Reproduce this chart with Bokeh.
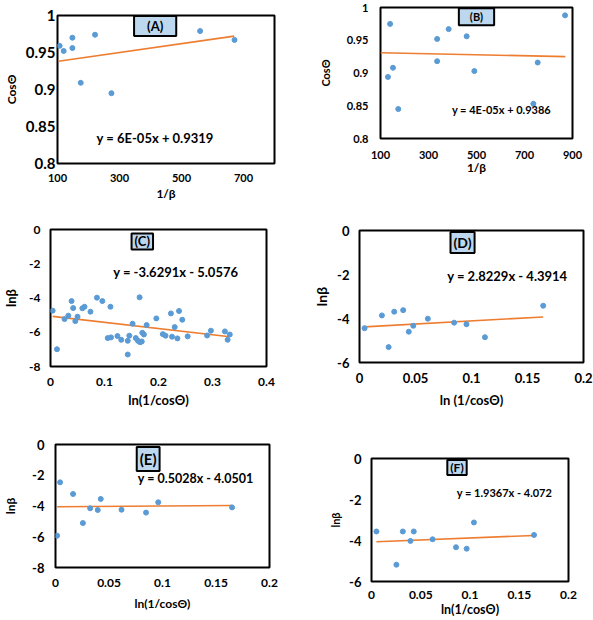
from bokeh.plotting import figure
from bokeh.layouts import column, row
from bokeh.models import Label, Range1d, FixedTicker, CustomJSTickFormatter
from bokeh.embed import file_html
from bokeh.resources import INLINE

FONT = "Lato"
BLUE = "#5b9bd5"
ORANGE = "#ed7d31"
BOXFILL = "#bdd7ee"

# ---------------- Panel A ----------------
a_x = [107, 120, 148, 148, 175, 221, 274, 560, 671]
a_y = [0.959, 0.952, 0.970, 0.956, 0.909, 0.974, 0.895, 0.979, 0.967]
a_xrange = [100, 800]
a_xticks = [100, 300, 500, 700]
a_yticks = [0.8, 0.85, 0.9, 0.95, 1]
a_slope, a_intercept = 6e-05, 0.9319
a_trend_x = [103, 670]
a_equation = "y = 6E-05x + 0.9319"

# ---------------- Panel B ----------------
b_x = [131, 140, 152, 174, 336, 336, 384, 459, 491, 737, 755, 869]
b_y = [0.894, 0.975, 0.908, 0.845, 0.952, 0.918, 0.967, 0.956, 0.903, 0.853, 0.916, 0.988]
b_xrange = [100, 900]
b_xticks = [100, 300, 500, 700, 900]
b_yticks = [0.8, 0.85, 0.9, 0.95, 1]
b_slope, b_intercept = -7.8e-06, 0.9318
b_trend_x = [100, 870]
b_equation = "y = 4E-05x + 0.9386"

# ---------------- Panel C ----------------
c_x = [0.004, 0.012, 0.026, 0.033, 0.039, 0.042, 0.046, 0.050, 0.059, 0.063,
       0.074, 0.086, 0.096, 0.106, 0.111, 0.112, 0.124, 0.131, 0.143, 0.143,
       0.146, 0.152, 0.158, 0.162, 0.165, 0.166, 0.169, 0.170, 0.173, 0.178,
       0.196, 0.208, 0.213, 0.223, 0.225, 0.230, 0.235, 0.238, 0.244, 0.254,
       0.290, 0.297, 0.323, 0.328, 0.332]
c_y = [-4.74, -6.99, -5.23, -5.03, -4.18, -4.59, -5.35, -5.09, -4.60, -4.51,
       -4.80, -3.98, -4.18, -6.34, -4.51, -6.30, -6.22, -6.44, -6.50, -7.30,
       -6.20, -5.50, -6.34, -6.50, -3.96, -6.58, -6.54, -6.03, -6.13, -5.58,
       -5.19, -6.11, -6.20, -4.90, -6.26, -5.70, -6.36, -4.76, -5.27, -6.24,
       -6.19, -5.91, -5.95, -6.44, -6.13]
c_xrange = [0, 0.4]
c_xticks = [0, 0.1, 0.2, 0.3, 0.4]
c_yticks = [-8, -6, -4, -2, 0]
c_slope, c_intercept = -3.6291, -5.0576
c_trend_x = [0.004, 0.332]
c_equation = "y = -3.6291x - 5.0576"

# ---------------- Panel D ----------------
d_x = [0.0045, 0.020, 0.026, 0.031, 0.039, 0.044, 0.048, 0.061, 0.0845, 0.0955, 0.112, 0.164]
d_y = [-4.44, -3.86, -5.30, -3.69, -3.62, -4.60, -4.33, -4.01, -4.19, -4.26, -4.85, -3.42]
d_xrange = [0, 0.2]
d_xticks = [0, 0.05, 0.1, 0.15, 0.2]
d_yticks = [-6, -4, -2, 0]
d_slope, d_intercept = 2.8229, -4.3914
d_trend_x = [0.0045, 0.164]
d_equation = "y = 2.8229x - 4.3914"

# ---------------- Panel E ----------------
e_x = [0.0015, 0.0043, 0.0164, 0.0256, 0.0324, 0.0395, 0.0423, 0.0617, 0.0846, 0.096, 0.165]
e_y = [-5.93, -2.46, -3.22, -5.11, -4.15, -4.26, -3.54, -4.24, -4.43, -3.76, -4.09]
e_xrange = [0, 0.2]
e_xticks = [0, 0.05, 0.1, 0.15, 0.2]
e_yticks = [-8, -6, -4, -2, 0]
e_slope, e_intercept = 0.5028, -4.0501
e_trend_x = [0.0015, 0.165]
e_equation = "y = 0.5028x - 4.0501"

# ---------------- Panel F ----------------
f_x = [0.005, 0.0253, 0.0318, 0.0395, 0.0429, 0.062, 0.0858, 0.0966, 0.104, 0.165]
f_y = [-3.56, -5.18, -3.56, -4.02, -3.56, -3.94, -4.33, -4.40, -3.12, -3.73]
f_xrange = [0, 0.2]
f_xticks = [0, 0.05, 0.1, 0.15, 0.2]
f_yticks = [-6, -4, -2, 0]
f_slope, f_intercept = 1.9367, -4.072
f_trend_x = [0.005, 0.165]
f_equation = "y = 1.9367x - 4.072"

FMT = "return String(+tick.toFixed(4));"


def panel(xs, ys, xrange_, xticks, yticks, slope, intercept, trend_x, tag, eq, xtitle, ytitle,
          geom, tag_pos, tag_pad, eq_pos, xstand, ystand, sizes):
    W, H, l, r, t, b = geom
    xtick_sz, ytick_sz, xtitle_sz, ytitle_sz, eq_sz, tag_sz = sizes
    p = figure(width=W, height=H, min_border_left=l, min_border_right=r,
               min_border_top=t, min_border_bottom=b,
               x_range=Range1d(xrange_[0], xrange_[1]),
               y_range=Range1d(yticks[0], yticks[-1]),
               output_backend="svg", toolbar_location=None)
    p.outline_line_color = "black"
    p.outline_line_width = 2
    p.background_fill_color = "white"
    p.border_fill_color = "white"
    p.xgrid.visible = False
    p.ygrid.visible = False
    for ax, ticks, (ls, ts), title, tsz, lsz in (
            (p.xaxis[0], xticks, xstand, xtitle, xtick_sz, xtitle_sz),
            (p.yaxis[0], yticks, ystand, ytitle, ytick_sz, ytitle_sz)):
        ax.ticker = FixedTicker(ticks=ticks)
        ax.formatter = CustomJSTickFormatter(code=FMT)
        ax.axis_line_color = None
        ax.major_tick_line_color = None
        ax.minor_tick_line_color = None
        ax.major_tick_out = 0
        ax.major_tick_in = 0
        ax.major_label_standoff = ls
        ax.axis_label_standoff = ts
        ax.axis_label = title
        ax.major_label_text_font = FONT
        ax.major_label_text_font_style = "bold"
        ax.major_label_text_font_size = tsz
        ax.major_label_text_color = "black"
        ax.axis_label_text_font = FONT
        ax.axis_label_text_font_style = "bold"
        ax.axis_label_text_font_size = lsz
        ax.axis_label_text_color = "black"
    tx = list(trend_x)
    ty = [slope * v + intercept for v in tx]
    p.line(tx, ty, line_color=ORANGE, line_width=1.6)
    p.scatter(xs, ys, size=5, fill_color=BLUE, line_color=BLUE)
    p.add_layout(Label(x=tag_pos[0], y=tag_pos[1], text="(" + tag + ")",
                       text_align="center", text_baseline="middle",
                       text_font=FONT, text_font_style="bold", text_font_size=tag_sz,
                       text_color="black", background_fill_color=BOXFILL,
                       border_line_color="black", border_line_width=2,
                       padding=tag_pad))
    p.add_layout(Label(x=eq_pos[0], y=eq_pos[1], text=eq,
                       text_align="center", text_baseline="middle",
                       text_font=FONT, text_font_style="bold", text_font_size=eq_sz,
                       text_color="black"))
    return p


# geometry: (width, height, left, right, top, bottom)
# sizes: (xtick, ytick, xtitle, ytitle, equation, tag)
pa = panel(a_x, a_y, a_xrange, a_xticks, a_yticks, a_slope, a_intercept, a_trend_x, "A",
           a_equation, "1/β", "CosΘ", (300, 204, 51, 26, 15, 41), (415, 0.9858), (13, 2),
           (415, 0.834), (10, 1), (2, 4),
           ("11px", "15px", "12px", "12px", "13px", "13px"))
pb = panel(b_x, b_y, b_xrange, b_xticks, b_yticks, b_slope, b_intercept, b_trend_x, "B",
           b_equation, "1/β", "CosΘ", (293, 204, 80, 21, 7, 66), (500, 0.986), (11, 2),
           (604, 0.844), (12, -2), (12, 12),
           ("11px", "11px", "12px", "11px", "11px", "11px"))
pc = panel(c_x, c_y, c_xrange, c_xticks, c_yticks, c_slope, c_intercept, c_trend_x, "C",
           c_equation, "ln(1/cosΘ)", "lnβ", (300, 206, 49, 34, 25, 44), (0.170, -0.70), (3, 0),
           (0.232, -2.46), (11, 3), (10, 7),
           ("12px", "12px", "13px", "13px", "13px", "13px"))
pd_ = panel(d_x, d_y, d_xrange, d_xticks, d_yticks, d_slope, d_intercept, d_trend_x, "D",
            d_equation, "ln (1/cosΘ)", "lnβ", (293, 206, 59, 10, 26, 48), (0.092, -0.545),
            (3, 2), (0.132, -2.05), (10, 6), (10, 4),
            ("13px", "13px", "13px", "14px", "13px", "14px"))
pe = panel(e_x, e_y, e_xrange, e_xticks, e_yticks, e_slope, e_intercept, e_trend_x, "E",
           e_equation, "ln(1/cosΘ)", "lnβ", (300, 210, 53, 31, 34, 53), (0.0866, -0.94), (3, 3),
           (0.131, -2.21), (11, 6), (11, 11),
           ("12px", "13px", "12px", "12px", "12.5px", "15px"))
pf = panel(f_x, f_y, f_xrange, f_xticks, f_yticks, f_slope, f_intercept, f_trend_x, "F",
           f_equation, "ln(1/cosΘ)", "lnβ", (293, 210, 71, 25, 48, 39), (0.0868, -0.44), (3, 0),
           (0.135, -1.66), (9, 0), (10, 4),
           ("12px", "13px", "12.5px", "11px", "11px", "12px"))

layout = column(
    row(column(pa), column(pb), spacing=0),
    row(column(pc), column(pd_), spacing=0),
    row(column(pe), column(pf), spacing=0),
    spacing=0)

open("out.html", "w").write(file_html(layout, INLINE))
